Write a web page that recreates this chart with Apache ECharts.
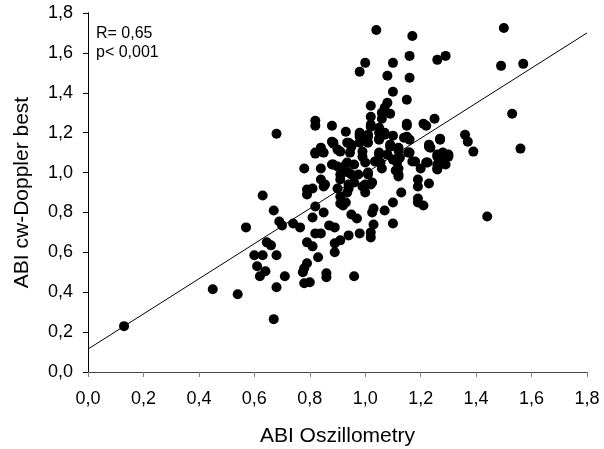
<!DOCTYPE html>
<html>
<head>
<meta charset="utf-8">
<script src="https://cdn.jsdelivr.net/npm/echarts@6/dist/echarts.min.js"></script>
<style>
  html, body { margin: 0; padding: 0; background: #fff; }
  #chart { width: 604px; height: 449px; }
</style>
</head>
<body>
<div id="chart"></div>
<script>
// ABI Oszillometry (x) vs ABI cw-Doppler best (y)
const points = [
    [0.13,0.23],[0.45,0.415],[0.54,0.39],[0.57,0.725],[0.60,0.585],[0.63,0.585],[0.61,0.53],[0.62,0.48],
    [0.64,0.505],[0.645,0.65],[0.66,0.635],[0.68,0.585],[0.67,0.81],[0.69,0.755],[0.70,0.735],[0.74,0.745],
    [0.68,0.425],[0.71,0.48],[0.67,0.265],[0.765,0.725],[0.68,1.195],[0.63,0.885],
    [0.79,0.65],[0.81,0.63],[0.79,0.545],[0.78,0.52],[0.775,0.50],[0.78,0.445],[0.80,0.45],[0.83,0.575],
    [0.86,0.495],[0.86,0.475],[0.82,0.695],[0.84,0.695],[0.89,0.645],[0.89,0.60],[0.91,0.66],[0.94,0.685],
    [0.81,0.775],[0.85,0.80],[0.87,0.735],[0.89,0.725],[0.95,0.79],[0.97,0.77],[0.96,0.48],[0.98,0.695],
    [0.91,0.845],[0.92,0.835],[1.02,0.675],[1.02,0.70],[1.03,0.74],[1.025,0.80],[1.03,0.82],[1.07,0.81],
    [1.10,0.745],[1.10,0.85],[1.19,0.85],[1.21,0.835],[1.44,0.78],[0.82,0.83],[0.93,0.85],[1.19,0.87],
    [1.13,0.90],[1.00,0.90],[0.935,0.90],[0.91,0.88],[0.90,0.92],[0.79,0.89],
    [0.79,0.915],[0.81,0.92],[0.85,0.93],[0.84,0.965],[0.855,0.94],[0.91,0.965],[0.94,0.94],[0.94,0.92],
    [0.96,0.95],[0.99,0.93],[1.00,0.94],[1.02,0.94],[1.025,0.95],[1.23,0.945],[1.19,0.93],[1.19,0.965],
    [1.12,0.98],[1.12,0.99],[0.91,0.99],[0.92,1.00],[0.94,1.00],[0.95,0.99],[0.975,0.99],[1.01,0.99],
    [1.01,1.00],[0.78,1.02],[0.84,1.02],[0.88,1.04],[0.885,1.04],[0.90,1.03],[0.93,1.04],[0.935,1.05],
    [0.96,1.04],[1.00,1.05],[1.035,1.055],[1.055,1.05],[1.06,1.02],[1.11,1.01],[1.115,1.05],[1.12,1.02],
    [1.17,1.055],[1.18,1.055],[1.20,1.02],[1.22,1.05],[1.225,1.05],[1.26,1.04],[1.28,1.045],[1.29,1.04],
    [1.26,1.015],[1.26,1.02],
    [0.82,1.095],[0.82,1.10],[0.84,1.125],[0.845,1.105],[0.85,1.10],[0.90,1.115],[0.91,1.105],[0.945,1.10],
    [0.99,1.08],[0.99,1.105],[1.05,1.09],[1.05,1.10],[1.08,1.09],[1.10,1.065],[1.125,1.075],[1.155,1.10],
    [1.16,1.10],[1.23,1.14],[1.235,1.125],[1.23,1.13],[1.26,1.08],[1.26,1.09],[1.28,1.09],[1.28,1.10],
    [1.30,1.08],[1.30,1.09],[1.39,1.105],[1.56,1.12],
    [0.88,1.155],[0.885,1.145],[0.885,1.15],[0.935,1.15],[0.94,1.15],[0.95,1.14],[0.95,1.13],[0.98,1.15],
    [1.01,1.15],[1.05,1.165],[1.05,1.17],[1.09,1.14],[1.09,1.13],[1.12,1.125],[1.12,1.11],[1.14,1.175],
    [1.15,1.18],[1.16,1.165],[1.27,1.165],[1.27,1.17],[1.36,1.19],[1.37,1.155],
    [0.93,1.205],[0.98,1.20],[0.98,1.19],[0.98,1.18],[1.01,1.19],[1.01,1.18],[1.05,1.20],[1.07,1.20],
    [1.07,1.19],[1.10,1.185],
    [0.82,1.26],[0.82,1.235],[0.88,1.235],[1.02,1.23],[1.02,1.24],[1.05,1.225],[1.15,1.235],[1.15,1.245],
    [1.21,1.245],[1.22,1.235],[1.25,1.27],[1.53,1.295],
    [1.02,1.28],[1.06,1.27],[1.06,1.30],[1.09,1.295],[1.07,1.325],[1.08,1.35],[1.02,1.335],[1.15,1.365],
    [1.10,1.405],[1.08,1.485],[1.16,1.475],[0.98,1.505],[1.00,1.55],[1.10,1.55],[1.16,1.585],[1.26,1.565],
    [1.29,1.585],[1.49,1.535],[1.57,1.545],[1.04,1.715],[1.17,1.685],[1.50,1.725]
];

// regression line end points
const fitLine = [[0, 0.115], [1.8, 1.70]];

const statLines = ['R= 0,65', 'p< 0,001'];

const FONT = '"Liberation Sans", Arial, sans-serif';
const fmt = v => v.toFixed(1).replace('.', ',');

const chart = echarts.init(document.getElementById('chart'));

const hiddenAxis = (pos, color) => ({
    type: 'value', position: pos, min: 0, max: 1.8, interval: 0.2,
    axisLine: { show: true, lineStyle: { color: color, width: 1 } },
    axisTick: { show: false }, axisLabel: { show: false }, splitLine: { show: false }
});

chart.setOption({
    backgroundColor: '#fff',
    animation: false,
    textStyle: { fontFamily: FONT },
    grid: { left: 88, right: 17, top: 13, bottom: 77, outerBoundsMode: 'none' },
    xAxis: [{
        type: 'value', min: 0, max: 1.8, interval: 0.2,
        name: 'ABI Oszillometry', nameLocation: 'middle', nameGap: 54,
        nameTextStyle: { fontSize: 21, color: '#000', fontFamily: FONT },
        axisLine: { lineStyle: { color: '#808080', width: 1 } },
        axisTick: { show: true, length: 5, lineStyle: { color: '#808080' } },
        axisLabel: { fontSize: 18, color: '#000', margin: 18, formatter: fmt, fontFamily: FONT },
        splitLine: { show: false }
    }, hiddenAxis('top', '#444')],
    yAxis: [{
        type: 'value', min: 0, max: 1.8, interval: 0.2,
        name: 'ABI cw-Doppler best', nameLocation: 'middle', nameGap: 55,
        nameTextStyle: { fontSize: 21, color: '#000', fontFamily: FONT },
        axisLine: { show: true, lineStyle: { color: '#000', width: 1 } },
        axisTick: { show: true, length: 5, lineStyle: { color: '#000' } },
        axisLabel: { fontSize: 18, color: '#000', margin: 15, formatter: fmt, fontFamily: FONT },
        splitLine: { show: false }
    }, hiddenAxis('right', '#000')],
    graphic: [{
        type: 'text', left: 96, top: 24,
        style: { text: statLines.join('\n'), font: '16px ' + FONT, fill: '#000', lineHeight: 19 }
    }],
    series: [{
        type: 'line',
        data: fitLine,
        symbol: 'none',
        lineStyle: { color: '#000', width: 1 },
        z: 1
    }, {
        type: 'scatter',
        data: points,
        symbolSize: 10,
        itemStyle: { color: '#000', opacity: 1 },
        z: 2
    }]
});
</script>
</body>
</html>
